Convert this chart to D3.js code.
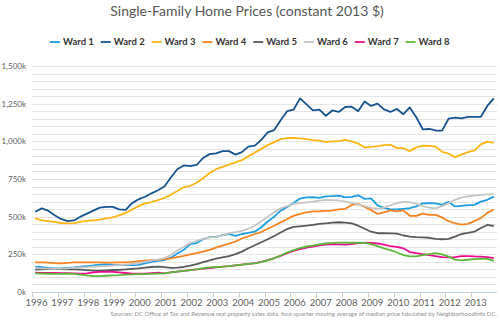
<!DOCTYPE html>
<html>
<head>
<meta charset="utf-8">
<script src="https://cdn.jsdelivr.net/npm/d3@7"></script>
<style>
  body { margin: 0; background: #fff; }
  svg { font-family: Lato, "Open Sans", sans-serif; display: block; }
</style>
</head>
<body>
<div id="chart"></div>
<script>
// quarterly, 1996 Q1 .. 2013 Q4, thousands of 2013 dollars
var years = d3.range(1996, 2014);
var wardNames = ["Ward 1", "Ward 2", "Ward 3", "Ward 4", "Ward 5", "Ward 6", "Ward 7", "Ward 8"];
var wardColors = ["#1b9de2", "#17548f", "#fdb515", "#f7821f", "#58595b", "#c4c4c4", "#ec0b8c", "#5cb83a"];

var ward1 = [168,165,160,157,158,160,163,168,172,176,182,184,180,179,179,178,180,190,200,206,212,228,255,280,318,325,350,365,366,378,385,372,385,392,400,430,468,500,540,565,590,620,628,630,625,635,636,640,628,632,642,618,622,575,558,548,548,552,556,568,588,590,588,578,598,568,572,576,578,600,612,633];
var ward2 = [533,555,540,510,485,470,475,500,520,540,560,565,565,548,545,590,615,632,655,675,700,760,815,840,835,843,890,915,920,935,935,912,928,965,972,1010,1060,1075,1140,1200,1210,1285,1245,1205,1210,1170,1205,1195,1228,1230,1200,1265,1235,1250,1212,1195,1215,1180,1225,1160,1080,1082,1072,1071,1150,1157,1153,1162,1163,1163,1235,1285];
var ward3 = [489,475,470,465,458,456,457,465,472,476,480,488,495,508,525,548,570,588,597,610,625,645,670,695,705,725,755,790,815,830,845,860,875,900,925,950,975,995,1015,1022,1022,1020,1015,1008,1005,995,1000,1002,1010,1000,985,960,963,968,975,978,955,955,935,960,972,970,965,930,918,895,912,928,940,980,998,990];
var ward4 = [197,196,195,192,190,193,196,197,197,197,196,195,195,196,197,200,205,208,211,213,218,223,232,240,250,258,268,280,295,308,322,335,355,370,385,398,420,440,462,485,505,518,528,535,536,538,540,548,552,578,584,565,545,518,528,542,535,542,506,505,520,512,512,495,470,456,447,452,470,490,525,548];
var ward5 = [148,150,152,152,152,150,150,148,145,142,142,144,146,147,150,154,157,162,166,168,165,160,162,166,175,185,198,210,222,230,238,252,268,290,310,330,350,372,395,418,432,436,440,445,452,456,460,463,460,455,440,420,400,390,390,389,388,375,368,364,363,360,352,350,352,368,385,392,400,425,445,438];
var ward6 = [158,157,155,153,155,157,160,163,165,168,170,172,175,178,182,186,192,200,208,215,225,245,275,300,325,340,352,362,366,375,390,397,405,420,440,470,500,530,555,570,585,590,595,600,606,612,610,608,600,592,580,570,558,552,560,575,590,598,596,585,570,560,555,570,590,612,626,634,640,645,648,648];
var ward7 = [128,127,127,126,125,125,124,122,124,130,134,134,133,130,126,122,121,122,125,128,124,130,135,140,145,150,155,158,163,168,172,177,182,187,192,200,212,225,240,258,272,285,295,302,310,315,316,316,314,318,325,327,326,322,315,305,300,290,265,258,252,245,238,232,230,232,238,238,236,235,232,225];
var ward8 = [124,122,121,120,120,121,120,116,110,106,106,108,110,112,115,117,118,118,120,122,124,130,135,140,145,150,158,163,166,168,172,177,182,186,190,198,210,225,242,262,278,292,302,308,316,322,326,328,328,327,327,326,318,305,290,278,262,245,236,236,245,252,258,250,235,215,210,214,218,222,220,207];

var yLabelTicks = [0, 250, 500, 750, 1000, 1250, 1500];
var yGridTicks = d3.range(0, 1501, 50);
var sourceText = "Sources: DC Office of Tax and Revenue real property sales data, four-quarter moving average of median price tabulated by NeighborhoodInfo DC.";

var series = [ward1, ward2, ward3, ward4, ward5, ward6, ward7, ward8];

var W = 500, H = 321;
var svg = d3.select("#chart").append("svg")
  .attr("width", W)
  .attr("height", H);

var x = d3.scaleLinear().domain([-0.5, 71.5]).range([32, 497]);
var y = d3.scaleLinear().domain([0, 1500]).range([292, 66]);

// gridlines
svg.append("g")
  .selectAll("line")
  .data(yGridTicks.filter(function(d) { return d > 0; }))
  .enter().append("line")
    .attr("x1", x(-0.5)).attr("x2", x(71.5))
    .attr("y1", function(d) { return Math.round(y(d)) + 0.5; })
    .attr("y2", function(d) { return Math.round(y(d)) + 0.5; })
    .attr("stroke", "#e6e6e6")
    .attr("stroke-width", 1);

// y labels
var yAxis = svg.append("g")
  .attr("transform", "translate(" + (x(-0.5) - 6) + ",0)")
  .call(d3.axisLeft(y).tickValues(yLabelTicks).tickSize(0)
    .tickFormat(function(d) { return d3.format(",")(d) + "k"; }));
yAxis.select(".domain").remove();
yAxis.selectAll("text")
  .attr("x", 0)
  .attr("fill", "#606060")
  .attr("font-size", "8px")
  .attr("font-family", "Lato, sans-serif");

// x axis
var xAxisG = svg.append("g").attr("transform", "translate(0," + (y(0) + 0.5) + ")");
xAxisG.append("line")
  .attr("x1", x(-0.5)).attr("x2", x(71.5))
  .attr("stroke", "#c0d0e0");
xAxisG.selectAll(".tick")
  .data(years)
  .enter().append("line")
    .attr("class", "tick")
    .attr("x1", function(d) { return Math.round(x((d - 1996) * 4 - 0.5)) + 0.5; })
    .attr("x2", function(d) { return Math.round(x((d - 1996) * 4 - 0.5)) + 0.5; })
    .attr("y1", 0).attr("y2", 5)
    .attr("stroke", "#c0d0e0");
xAxisG.selectAll(".lbl")
  .data(years)
  .enter().append("text")
    .attr("class", "lbl")
    .attr("x", function(d) { return x((d - 1996) * 4 + 0.2); })
    .attr("y", 13)
    .attr("text-anchor", "middle")
    .attr("fill", "#606060")
    .attr("font-size", "9.5px")
    .text(function(d) { return d; });

// lines
var line = d3.line()
  .x(function(d, i) { return x(i); })
  .y(function(d) { return y(d); });

svg.append("g")
  .selectAll("path")
  .data(series)
  .enter().append("path")
    .attr("d", line)
    .attr("fill", "none")
    .attr("stroke", function(d, i) { return wardColors[i]; })
    .attr("stroke-width", 1.8)
    .attr("stroke-linejoin", "round");

// title
svg.append("text")
  .attr("x", 247)
  .attr("y", 16)
  .attr("text-anchor", "middle")
  .attr("fill", "#555")
  .attr("font-size", "14px")
  .text("Single-Family Home Prices (constant 2013 $)");

// legend
var legend = svg.append("g").attr("transform", "translate(50,42)");
var item = legend.selectAll("g")
  .data(wardNames)
  .enter().append("g")
    .attr("transform", function(d, i) { return "translate(" + (i * 50.8) + ",0)"; });
item.append("line")
  .attr("x1", 0).attr("x2", 10)
  .attr("stroke", function(d, i) { return wardColors[i]; })
  .attr("stroke-width", 1.8);
item.append("text")
  .attr("x", 13)
  .attr("dy", "0.35em")
  .attr("fill", "#333")
  .attr("font-size", "9.5px")
  .attr("font-weight", "bold")
  .text(function(d) { return d; });

// source
svg.append("text")
  .attr("x", 497)
  .attr("y", 316)
  .attr("text-anchor", "end")
  .attr("fill", "#909090")
  .attr("font-size", "6.1px")
  .text(sourceText);
</script>
</body>
</html>
